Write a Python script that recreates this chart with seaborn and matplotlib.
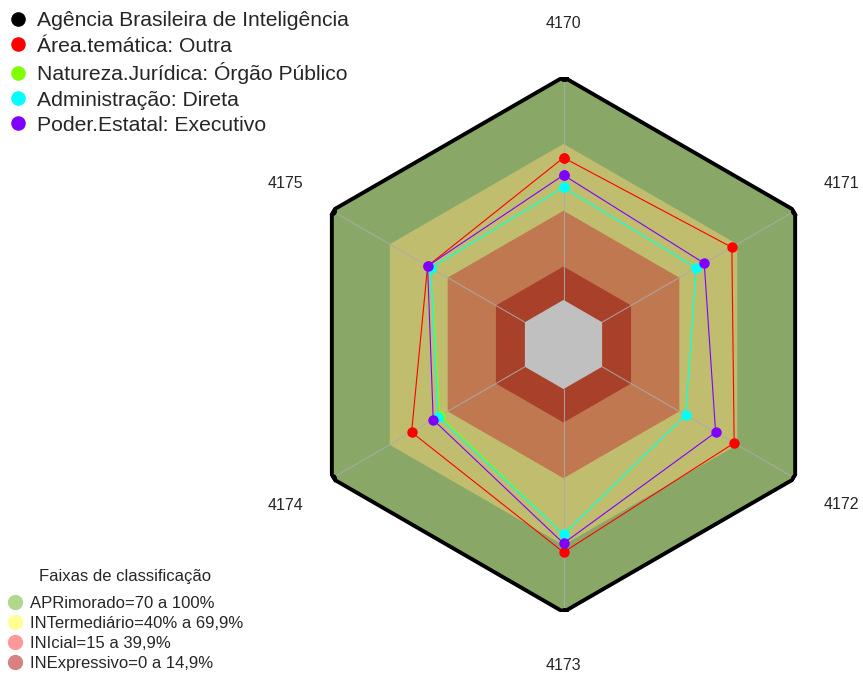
import numpy as np
import pandas as pd
import matplotlib
matplotlib.use("Agg")
import matplotlib.pyplot as plt
from matplotlib.lines import Line2D
import seaborn as sns

# ---------------- data ----------------
categories = ["4170", "4171", "4172", "4173", "4174", "4175"]
series_names = [
    "Agência Brasileira de Inteligência",
    "Área.temática: Outra",
    "Natureza.Jurídica: Órgão Público",
    "Administração: Direta",
    "Poder.Estatal: Executivo",
]
agencia = [100, 100, 100, 100, 100, 100]
area_tematica = [63.8, 67.2, 68.4, 73.2, 58.7, 50.4]
natureza_juridica = [50.5, 48.7, 43.3, 65.2, 44.0, 48.8]
administracao = [50.5, 48.7, 43.3, 65.2, 45.0, 48.8]
poder_estatal = [56.0, 52.9, 58.8, 69.2, 47.5, 50.4]
series_colors = ["#000000", "#FF0000", "#7FFF00", "#00FFFF", "#7F00FF"]

legend_title = "Faixas de classificação"
band_labels = ["APRimorado=70 a 100%", "INTermediário=40% a 69,9%",
               "INIcial=15 a 39,9%", "INExpressivo=0 a 14,9%"]
band_limits = [100, 70, 40, 15, 0]
band_fill = ["#89A867", "#C0BE6E", "#C07850", "#A8402A", "#C0C0C0"]
band_legend_colors = ["#B0D88C", "#FFFF96", "#FF9999", "#D98080"]
r_min = -20

# ---------------- figure ----------------
sns.set_style("white")
plt.rcParams["font.family"] = ["Liberation Sans", "DejaVu Sans"]

W, H = 863, 675
fig = plt.figure(figsize=(W / 100, H / 100), dpi=100)
cx, cy, R = 563.5, 344.5, 267.5
ax = fig.add_axes([(cx - R) / W, (H - cy - R) / H, 2 * R / W, 2 * R / H],
                  projection="polar")
ax.set_theta_offset(np.pi / 2)
ax.set_theta_direction(-1)
ax.set_ylim(r_min, 100)
ax.grid(False)
ax.spines["polar"].set_visible(False)
ax.set_xticks([])
ax.set_yticks([])
ax.patch.set_alpha(0)

n = len(categories)
theta = np.arange(n) * 2 * np.pi / n
theta_closed = np.append(theta, theta[0])

# bands
for lim, col in zip(band_limits, band_fill):
    ax.fill(theta_closed, [lim] * (n + 1), color=col, lw=0, zorder=1)

# spokes
for t in theta:
    ax.plot([t, t], [0, 100], color="#ABABAB", lw=0.8, alpha=0.85, zorder=2)

# series
all_series = [agencia, area_tematica, natureza_juridica, administracao, poder_estatal]
rows = []
for name, vals in zip(series_names, all_series):
    vals_closed = list(vals) + [vals[0]]
    for t, v in zip(theta_closed, vals_closed):
        rows.append({"serie": name, "theta": t, "valor": v})
df = pd.DataFrame(rows)

for i, (name, col) in enumerate(zip(series_names, series_colors)):
    sub = df[df["serie"] == name]
    if i == 0:
        lw, ms = 2.8, 6.5
    else:
        lw, ms = 0.8, 7.5
    sns.lineplot(data=sub, x="theta", y="valor", ax=ax, sort=False,
                 estimator=None, color=col, lw=lw, marker="o", ms=ms,
                 markeredgewidth=0, zorder=3 + i, legend=False)
ax.set_xlabel("")
ax.set_ylabel("")

# category labels
for t, c in zip(theta, categories):
    ax.annotate(c, xy=(t, 124), xytext=(0, 0), textcoords="offset pixels",
                ha="center", va="center", fontsize=11.5, annotation_clip=False)

# top legend
h1 = [Line2D([], [], ls="none", marker="o", ms=10.5, color=c, markeredgewidth=0)
      for c in series_colors]
leg1 = fig.legend(h1, series_names, loc="upper left",
                  bbox_to_anchor=(7.5 / W, 1 - 11.5 / H), frameon=False,
                  fontsize=15.2, handlelength=1.0, handletextpad=0.4,
                  borderpad=0, borderaxespad=0, labelspacing=0.30)

# bottom legend
h2 = [Line2D([], [], ls="none", marker="o", ms=11, color=c, markeredgewidth=0)
      for c in band_legend_colors]
leg2 = fig.legend(h2, band_labels, loc="lower left",
                  bbox_to_anchor=(6.6 / W, 4.0 / H), frameon=False,
                  fontsize=12, handlelength=1.0, handletextpad=0.4,
                  borderpad=0, borderaxespad=0, labelspacing=0.30)
fig.text(125 / W, 1 - 576 / H, legend_title, ha="center", va="center",
         fontsize=12)

fig.savefig("out.png", dpi=100)
